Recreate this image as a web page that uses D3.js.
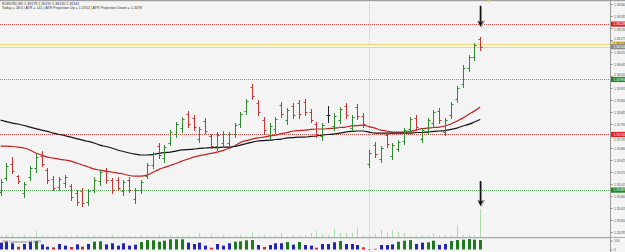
<!DOCTYPE html>
<html>
<head>
<meta charset="utf-8">
<script src="https://cdn.jsdelivr.net/npm/d3@7"></script>
<style>
body{margin:0;background:#f4f4f4;}
svg{display:block;font-family:"Liberation Sans",Arial,sans-serif;}
</style>
</head>
<body>
<div id="viz"></div>
<script>
var width = 625;
var height = 252;

// price bars, one per candle (oldest first)
var high = [1.35538,1.35611,1.35638,1.35556,1.35524,1.35597,1.35652,1.35666,1.35588,1.35551,
	1.35547,1.35556,1.35515,1.35487,1.35496,1.35492,1.35547,1.35579,1.35588,1.35542,
	1.35547,1.35533,1.35547,1.35496,1.35533,1.35611,1.35661,1.35703,1.35693,1.35762,
	1.35799,1.35822,1.35849,1.35831,1.35776,1.35817,1.35744,1.35753,1.35758,1.35753,
	1.35794,1.35845,1.35904,1.35973,1.35900,1.35822,1.35794,1.35822,1.35891,1.35863,
	1.35886,1.35900,1.35904,1.35858,1.35799,1.35794,1.35872,1.35840,1.35868,1.35886,
	1.35831,1.35881,1.35840,1.35671,1.35707,1.35689,1.35753,1.35703,1.35716,1.35771,
	1.35822,1.35831,1.35771,1.35817,1.35854,1.35863,1.35817,1.35891,1.35964,1.36060,
	1.36106,1.36161,1.36190];
var low = [1.35464,1.35533,1.35565,1.35519,1.35455,1.35533,1.35570,1.35597,1.35519,1.35487,
	1.35487,1.35501,1.35441,1.35418,1.35414,1.35418,1.35478,1.35510,1.35519,1.35473,
	1.35487,1.35464,1.35478,1.35428,1.35473,1.35542,1.35588,1.35634,1.35616,1.35693,
	1.35730,1.35753,1.35776,1.35762,1.35707,1.35748,1.35680,1.35671,1.35684,1.35689,
	1.35730,1.35776,1.35836,1.35904,1.35831,1.35748,1.35726,1.35748,1.35822,1.35790,
	1.35817,1.35817,1.35831,1.35799,1.35730,1.35716,1.35799,1.35762,1.35794,1.35817,
	1.35758,1.35813,1.35776,1.35593,1.35638,1.35616,1.35684,1.35629,1.35666,1.35698,
	1.35753,1.35762,1.35707,1.35744,1.35781,1.35794,1.35739,1.35817,1.35891,1.35959,
	1.36033,1.36083,1.36130];
var open = [1.35478,1.35542,1.35606,1.35551,1.35473,1.35547,1.35588,1.35643,1.35579,1.35538,
	1.35501,1.35519,1.35506,1.35473,1.35483,1.35432,1.35487,1.35528,1.35574,1.35533,
	1.35533,1.35483,1.35533,1.35446,1.35487,1.35551,1.35602,1.35689,1.35634,1.35703,
	1.35744,1.35771,1.35836,1.35817,1.35721,1.35803,1.35735,1.35689,1.35703,1.35703,
	1.35744,1.35790,1.35849,1.35959,1.35886,1.35808,1.35739,1.35767,1.35877,1.35808,
	1.35872,1.35886,1.35891,1.35845,1.35790,1.35735,1.35831,1.35781,1.35808,1.35872,
	1.35771,1.35868,1.35826,1.35606,1.35693,1.35629,1.35739,1.35643,1.35675,1.35712,
	1.35767,1.35817,1.35721,1.35758,1.35794,1.35849,1.35753,1.35831,1.35904,1.35973,
	1.36046,1.36097,1.36178];
var close = [1.35524,1.35597,1.35574,1.35528,1.35515,1.35588,1.35638,1.35606,1.35533,1.35496,
	1.35538,1.35547,1.35455,1.35432,1.35428,1.35483,1.35533,1.35570,1.35533,1.35487,
	1.35496,1.35524,1.35487,1.35487,1.35524,1.35602,1.35652,1.35648,1.35684,1.35753,
	1.35790,1.35813,1.35790,1.35776,1.35767,1.35758,1.35689,1.35739,1.35744,1.35744,
	1.35785,1.35836,1.35895,1.35918,1.35845,1.35762,1.35781,1.35813,1.35836,1.35854,
	1.35831,1.35836,1.35845,1.35808,1.35744,1.35785,1.35831,1.35826,1.35858,1.35831,
	1.35822,1.35826,1.35790,1.35657,1.35652,1.35680,1.35698,1.35693,1.35707,1.35762,
	1.35813,1.35776,1.35762,1.35808,1.35845,1.35808,1.35808,1.35881,1.35955,1.36046,
	1.36097,1.36152,1.36144];

// moving averages
var maSlow = [1.35808,1.35801,1.35794,1.35790,1.35783,1.35776,1.35769,1.35762,1.35756,1.35748,
	1.35742,1.35737,1.35730,1.35723,1.35716,1.35710,1.35703,1.35693,1.35687,1.35680,
	1.35671,1.35664,1.35657,1.35652,1.35648,1.35648,1.35650,1.35655,1.35659,1.35661,
	1.35666,1.35671,1.35673,1.35675,1.35678,1.35680,1.35682,1.35682,1.35684,1.35684,
	1.35687,1.35693,1.35700,1.35707,1.35712,1.35714,1.35716,1.35719,1.35721,1.35726,
	1.35728,1.35730,1.35730,1.35733,1.35735,1.35739,1.35742,1.35744,1.35748,1.35753,
	1.35756,1.35758,1.35758,1.35753,1.35748,1.35748,1.35748,1.35748,1.35748,1.35748,
	1.35748,1.35751,1.35751,1.35753,1.35756,1.35758,1.35760,1.35765,1.35771,1.35781,
	1.35788,1.35799,1.35811];
var maFast = [1.35689,1.35689,1.35687,1.35684,1.35680,1.35671,1.35657,1.35648,1.35638,1.35634,
	1.35629,1.35625,1.35620,1.35611,1.35602,1.35593,1.35583,1.35579,1.35574,1.35570,
	1.35565,1.35561,1.35554,1.35551,1.35551,1.35556,1.35568,1.35581,1.35591,1.35600,
	1.35609,1.35620,1.35629,1.35638,1.35645,1.35650,1.35655,1.35661,1.35668,1.35678,
	1.35689,1.35705,1.35714,1.35721,1.35726,1.35730,1.35735,1.35739,1.35746,1.35751,
	1.35758,1.35760,1.35762,1.35765,1.35767,1.35767,1.35769,1.35771,1.35774,1.35776,
	1.35781,1.35783,1.35785,1.35778,1.35771,1.35762,1.35758,1.35753,1.35753,1.35753,
	1.35756,1.35762,1.35769,1.35771,1.35774,1.35776,1.35781,1.35790,1.35803,1.35817,
	1.35834,1.35849,1.35868];

// thin light green histogram in the price window
var spikes = [1,2,3,1,2,1,6,2,1,1, 2,2,1,2,1,1,2,1,1,2, 1,2,1,1,2,2,1,2,1,2,
	1,1,2,1,4,1,3,1,2,1, 1,2,1,5,1,2,1,2,4,1, 2,1,
	2,4,6,3,2,8,4,4,4,9, 2,1,3,7,5,7,5,4,1,1, 2,2,4,2,2,2,12,2,2,2, 28];

// lower window histogram and its state
var osc = [76,87,69,31,61,87,94,57,31,24, 61,43,28,57,31,61,87,91,57,69,
	43,69,43,54,83,105,102,87,98,113, 113,113,76,61,76,43,20,61,43,69,
	87,91,102,105,50,28,50,69,69,83, 54,83,50,43,20,61,61,80,94,61,
	61,50,24,5,8,50,50,57,87,98, 105,61,76,80,98,50,61,94,105,109,
	116,109,105];
var oscState = ["b","b","b","r","b","b","g","b","b","r", "b","b","r","b","r","b","g","g","b","b",
	"b","b","b","b","g","g","g","g","g","g", "g","g","b","b","b","b","r","b","b","b",
	"g","g","g","g","b","r","b","b","b","g", "b","g","b","b","r","b","b","b","g","b",
	"b","b","r","r","r","b","b","b","g","g", "g","b","b","g","g","b","b","g","g","g",
	"g","g","g"];

// horizontal levels
var redLevels = [1.36248, 1.35742];
var greenLevels = [1.35994, 1.35487];
var askPrice = 1.36158;
var bidPrice = 1.36144;
var sessionBar = 63;

var priceTicks = [1.36340,1.36285,1.36230,1.36175,1.36120,1.36065,1.36010,1.35955,1.35900,1.35845,
	1.35790,1.35735,1.35680,1.35625,1.35570,1.35515,1.35460,1.35405,1.35350,1.35295];
var oscTicks = [100, 0];

var header1 = "EURUSD,M5  1.36178 1.36190 1.36130 1.36144";
var header2 = "Today = 58.6  |  ATR = 141  |  ATR Projection Up = 1.3702  |  ATR Projection Down = 1.3478";
var oscTitle = "TFX Continuation 0.4 4.979";

var plotRight = 610;

var canvas = d3.select('#viz')
		.append('svg')
		.attr("height",height)
		.attr("width",width);

canvas.append("rect").attr("width",width).attr("height",height).attr("fill","#f4f4f4");

var x = d3.scaleLinear()
	.domain([0, high.length-1])
	.range([0.6, 480.2]);

var y = d3.scaleLinear()
	.domain([1.35295, 1.36340])
	.range([232, 4]);

var ySpike = d3.scaleLinear()
	.domain([0, 30])
	.range([237, 207]);

var yOsc = d3.scaleLinear()
	.domain([0, 100])
	.range([249.5, 240.5]);

function px(i){ return Math.round(x(i)) + 0.5; }
function py(v){ return Math.round(y(v)) + 0.5; }

// top border
canvas.append("rect").attr("x",0).attr("y",0).attr("width",width).attr("height",1.2).attr("fill","#a0a0a0");

// session separator
canvas.append("line")
	.attr("x1",px(sessionBar)).attr("x2",px(sessionBar))
	.attr("y1",1).attr("y2",height)
	.attr("stroke","#c4c4c4").attr("stroke-dasharray","1,1");

// bid/ask band
canvas.append("rect")
	.attr("x",0).attr("width",plotRight)
	.attr("y",y(askPrice)).attr("height",y(bidPrice)-y(askPrice))
	.attr("fill","#fbf5d6");
canvas.selectAll(".ba").data([askPrice,bidPrice]).enter()
	.append("line")
	.attr("x1",0).attr("x2",plotRight)
	.attr("y1",function(d){return py(d)}).attr("y2",function(d){return py(d)})
	.attr("stroke","#ecd87a").attr("stroke-width",1);

// dotted levels
canvas.selectAll(".rl").data(redLevels).enter()
	.append("line")
	.attr("x1",0).attr("x2",plotRight)
	.attr("y1",function(d){return py(d)}).attr("y2",function(d){return py(d)})
	.attr("stroke","#d05050").attr("stroke-dasharray","1,1");
canvas.selectAll(".gl").data(greenLevels).enter()
	.append("line")
	.attr("x1",0).attr("x2",plotRight)
	.attr("y1",function(d){return py(d)}).attr("y2",function(d){return py(d)})
	.attr("stroke","#5aa85a").attr("stroke-dasharray","1,1");

// light green spikes
canvas.append("g").selectAll("line").data(spikes).enter()
	.append("line")
	.attr("x1",function(d,i){return px(i)}).attr("x2",function(d,i){return px(i)})
	.attr("y1",ySpike(0)).attr("y2",function(d){return ySpike(d)})
	.attr("stroke","#a8dca8").attr("stroke-width",1);

// moving averages
var maLine = d3.line()
	.x(function(d,i){return x(i)})
	.y(function(d){return y(d)})
	.curve(d3.curveMonotoneX);

canvas.append("path").datum(maFast)
	.attr("d",maLine).attr("fill","none")
	.attr("stroke","#c42020").attr("stroke-width",1.2);
canvas.append("path").datum(maSlow)
	.attr("d",maLine).attr("fill","none")
	.attr("stroke","#151515").attr("stroke-width",1.2);

// OHLC bars
function barColour(i){
	if (close[i] > open[i]) return "#2f8a2f";
	if (close[i] < open[i]) return "#c83434";
	return "#222";
}

var bars = canvas.append("g").selectAll("g")
	.data(high)
	.enter()
		.append("g")
		.attr("stroke",function(d,i){return barColour(i)})
		.attr("stroke-width",1);

bars.append("line")
	.attr("x1",function(d,i){return px(i)}).attr("x2",function(d,i){return px(i)})
	.attr("y1",function(d,i){return Math.round(y(high[i]))})
	.attr("y2",function(d,i){return Math.round(y(low[i]))+1});
bars.append("line")
	.attr("x1",function(d,i){return px(i)-2}).attr("x2",function(d,i){return px(i)})
	.attr("y1",function(d,i){return py(open[i])}).attr("y2",function(d,i){return py(open[i])});
bars.append("line")
	.attr("x1",function(d,i){return px(i)}).attr("x2",function(d,i){return px(i)+2})
	.attr("y1",function(d,i){return py(close[i])}).attr("y2",function(d,i){return py(close[i])});

// arrows on the last bar
function arrow(cx, top, tip){
	var g = canvas.append("g");
	g.append("path")
		.attr("d","M"+(cx+1)+","+(top+1)+"V"+(tip-5)+"L"+(cx+4)+","+(tip-6)+"L"+(cx+1)+","+(tip+1)+"L"+(cx-2)+","+(tip-6)+"L"+(cx+1-0.5)+","+(tip-5)+"Z")
		.attr("fill","#bbb").attr("stroke","#bbb").attr("stroke-width",1);
	g.append("line")
		.attr("x1",cx).attr("x2",cx).attr("y1",top).attr("y2",tip-4)
		.attr("stroke","#111").attr("stroke-width",1.6);
	g.append("path")
		.attr("d","M"+(cx-3)+","+(tip-6)+"L"+cx+","+tip+"L"+(cx+3)+","+(tip-6)+"L"+cx+","+(tip-4)+"Z")
		.attr("fill","#111");
}
var last = high.length-1;
arrow(px(last), y(high[last])-31, y(high[last])-10);
arrow(px(last), ySpike(spikes[last])-28, ySpike(spikes[last])-3);

// little projection mark
canvas.append("rect").attr("x",px(last)+7).attr("y",0).attr("width",2).attr("height",2).attr("fill","#e8d040");

// lower window
canvas.append("line").attr("x1",0).attr("x2",width).attr("y1",237.5).attr("y2",237.5).attr("stroke","#a8a8a8");
canvas.append("line").attr("x1",0).attr("x2",plotRight).attr("y1",238.5).attr("y2",238.5).attr("stroke","#e2e2e2");

var oscColour = {b:"#2424b8", g:"#1f7a1f", r:"#d02828"};
canvas.append("g").selectAll("rect")
	.data(osc)
	.enter()
		.append("rect")
		.attr("x",function(d,i){return Math.round(x(i))-1})
		.attr("width",3)
		.attr("y",function(d){return yOsc(d)})
		.attr("height",function(d){return yOsc(0)-yOsc(d)})
		.attr("fill",function(d,i){return oscColour[oscState[i]]});

canvas.append("text")
	.attr("x",2).attr("y",242.5)
	.attr("font-size",3.2).attr("fill","#666")
	.text(oscTitle);

// level tags on the scale
var tags = [
	{v:redLevels[0], fill:"#e02424", col:"#fff"},
	{v:askPrice, fill:"#f2d84a", col:"#444"},
	{v:bidPrice, fill:"#8c8c8c", col:"#fff"},
	{v:greenLevels[0], fill:"#238a23", col:"#fff"},
	{v:redLevels[1], fill:"#e02424", col:"#fff"},
	{v:greenLevels[1], fill:"#238a23", col:"#fff"}
];

// right price scale
canvas.append("line")
	.attr("x1",plotRight+0.5).attr("x2",plotRight+0.5)
	.attr("y1",0).attr("y2",height)
	.attr("stroke","#9a9a9a");

var yAxis = d3.axisRight()
	.scale(y)
	.tickValues(priceTicks)
	.tickFormat(d3.format(".5f"))
	.tickSize(2)
	.tickPadding(1.5);

var ax = canvas.append("g")
	.attr("transform","translate("+(plotRight+0.5)+",0)")
	.call(yAxis);
ax.select(".domain").remove();
ax.selectAll("line").attr("stroke","#888");
ax.selectAll("text").attr("font-size",3.3).attr("fill","#555").attr("font-family","Liberation Sans, Arial");

// push a tick label clear of a tag that sits on it
ax.selectAll(".tick text").attr("dy",function(d){
	var shift = 0;
	tags.forEach(function(t){
		var gap = y(d) - y(t.v);
		if (Math.abs(gap) < 5) shift = (gap >= 0 ? 1 : -1)*(5 - Math.abs(gap));
	});
	return (0.32*3.3 + shift) + "px";
});

var oscAxis = d3.axisRight()
	.scale(yOsc)
	.tickValues(oscTicks)
	.tickSize(2)
	.tickPadding(1.5);
var ax2 = canvas.append("g")
	.attr("transform","translate("+(plotRight+0.5)+",0)")
	.call(oscAxis);
ax2.select(".domain").remove();
ax2.selectAll("line").attr("stroke","#888");
ax2.selectAll("text").attr("font-size",3.3).attr("fill","#555").attr("font-family","Liberation Sans, Arial");

var tagG = canvas.append("g").selectAll("g").data(tags).enter().append("g");
tagG.append("rect")
	.attr("x",plotRight+1).attr("width",width-plotRight-1)
	.attr("y",function(d){return y(d.v)-2.6}).attr("height",5.2)
	.attr("fill",function(d){return d.fill});
tagG.append("text")
	.attr("x",plotRight+3.5).attr("y",function(d){return y(d.v)+1.2})
	.attr("font-size",3.3).attr("fill",function(d){return d.col})
	.text(function(d){return d3.format(".5f")(d.v)});

// header
canvas.append("text").attr("x",2).attr("y",5.3).attr("font-size",3.6).attr("fill","#333").text(header1);
canvas.append("text").attr("x",2).attr("y",9.4).attr("font-size",3.6).attr("fill","#333").text(header2);
</script>
</body>
</html>
